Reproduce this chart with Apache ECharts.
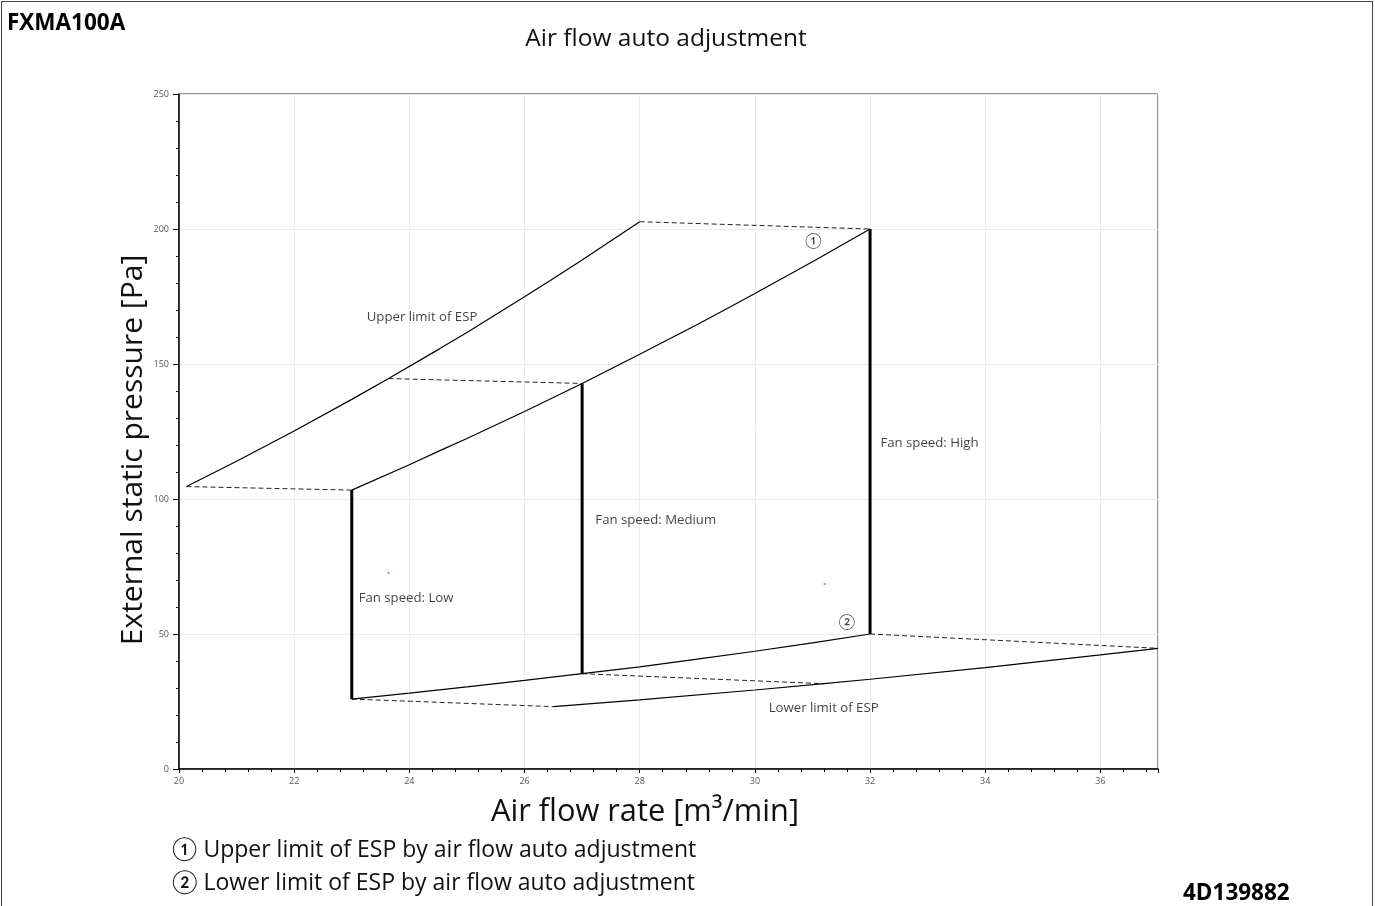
<!DOCTYPE html>
<html><head><meta charset="utf-8">
<script src="https://cdn.jsdelivr.net/npm/echarts@6/dist/echarts.min.js"></script>
<style>
html,body{margin:0;padding:0;background:#fff;}
#frame{position:absolute;left:1px;top:1px;width:1370px;height:910px;border-left:1px solid #444;border-top:1px solid #444;border-right:1px solid #444;}
#c{position:absolute;left:0;top:0;width:1375px;height:906px;}
</style></head><body>
<div id="frame"></div>
<div id="c"></div>
<script>
// ---- data ----
const upperLimitX = [20.13, 21, 22, 23, 23.64, 24.53, 25, 26, 26.44, 27, 28];
const upperLimitY = [104.6, 114.0, 125.2, 136.9, 144.6, 155.7, 161.7, 174.9, 180.8, 188.5, 202.7];
const autoUpperX = [23, 24, 24.53, 25, 26, 27, 28, 29, 29.56, 30, 31, 32];
const autoUpperY = [103.3, 112.7, 117.9, 122.4, 132.4, 142.8, 153.6, 164.6, 171.0, 176.1, 187.9, 200];
const autoLowerX = [23, 24, 25, 26, 27, 28, 29, 30, 31, 32];
const autoLowerY = [25.9, 28.1, 30.4, 32.8, 35.3, 37.8, 40.7, 43.6, 46.7, 50];
const lowerLimitX = [26.5, 28, 30, 31.2, 32, 34, 36, 37];
const lowerLimitY = [23.1, 25.6, 29.25, 31.6, 33.24, 37.56, 42.24, 44.7];
// dashed connectors: [x1, y1, x2, y2]
const dashedLinks = [
  [20.13, 104.6, 23, 103.3],
  [23.64, 144.6, 27, 142.8],
  [28, 202.7, 32, 200],
  [23, 25.9, 26.5, 23.1],
  [27, 35.3, 31.2, 31.6],
  [32, 50, 37, 44.7]
];
// fan speed verticals: [x, yLow, yHigh]
const fanSpeedLines = [
  [23, 25.9, 103.3],
  [27, 35.3, 142.8],
  [32, 50, 200]
];
// annotation texts: [text, x, y, align]
const annotations = [
  ['Upper limit of ESP', 23.26, 167.4, 'left'],
  ['Fan speed: Low', 23.12, 63.3, 'left'],
  ['Fan speed: Medium', 27.23, 92.2, 'left'],
  ['Fan speed: High', 32.18, 120.7, 'left'],
  ['Lower limit of ESP', 30.24, 22.6, 'left'],
  ['\u2460', 31.02, 195.2, 'center'],
  ['\u2461', 31.6, 54.1, 'center']
];
const strayDots = [[23.64, 72.6], [31.21, 68.5]];
const xTicks = {min: 20, max: 37, interval: 2};
const yTicks = {min: 0, max: 250, interval: 50};
const xName = 'Air flow rate [m\u00b3/min]';
const yName = 'External static pressure [Pa]';

const zip = (xs, ys) => xs.map((x, i) => [x, ys[i]]);
const FONT = '"Open Sans", Lato, sans-serif';

const series = [];
const solid = {color: '#000', width: 1.2};
[[upperLimitX, upperLimitY], [autoUpperX, autoUpperY], [autoLowerX, autoLowerY], [lowerLimitX, lowerLimitY]].forEach(([xs, ys]) => {
  series.push({type: 'line', data: zip(xs, ys), showSymbol: false, smooth: false, lineStyle: solid, silent: true, z: 3});
});
dashedLinks.forEach(d => {
  series.push({type: 'line', data: [[d[0], d[1]], [d[2], d[3]]], showSymbol: false,
    lineStyle: {color: '#222', width: 1, type: [5, 3]}, silent: true, z: 2});
});
fanSpeedLines.forEach(f => {
  series.push({type: 'line', data: [[f[0], f[1]], [f[0], f[2]]], showSymbol: false,
    lineStyle: {color: '#000', width: 3}, silent: true, z: 4});
});
annotations.forEach(a => {
  series.push({type: 'scatter', data: [[a[1], a[2]]], symbolSize: 0, silent: true,
    label: {show: true, position: a[3] === 'left' ? 'right' : 'inside', distance: 0, formatter: a[0],
      color: '#111', fontSize: a[3] === 'left' ? 13.2 : 15, fontFamily: FONT}});
});
series.push({type: 'scatter', data: strayDots, symbolSize: 2, itemStyle: {color: '#e03030'}, silent: true});

const chart = echarts.init(document.getElementById('c'), null, {renderer: 'canvas'});
chart.setOption({
  animation: false,
  backgroundColor: 'transparent',
  grid: {left: 179, top: 94, right: 217, bottom: 137, show: true, borderColor: '#222', borderWidth: 1, containLabel: false},
  title: {text: 'Air flow auto adjustment', left: 661, top: 22, textAlign: 'center',
    textStyle: {fontFamily: FONT, fontWeight: 'normal', fontSize: 24.5, color: '#111'}},
  xAxis: {
    type: 'value', min: xTicks.min, max: xTicks.max, interval: xTicks.interval,
    axisLine: {show: true, lineStyle: {color: '#000', width: 1.5}},
    axisTick: {show: true, length: 4, lineStyle: {color: '#000'}},
    minorTick: {show: true, splitNumber: 5, length: 3, lineStyle: {color: '#000'}},
    axisLabel: {fontSize: 9, color: '#555', fontFamily: FONT, margin: 8,
      formatter: v => (v === 37 ? '' : v)},
    splitLine: {show: true, lineStyle: {color: '#ececec', width: 1}}
  },
  yAxis: {
    type: 'value', min: yTicks.min, max: yTicks.max, interval: yTicks.interval,
    axisLine: {show: true, lineStyle: {color: '#000', width: 1.5}},
    axisTick: {show: true, length: 6, lineStyle: {color: '#000'}},
    minorTick: {show: true, splitNumber: 5, length: 3, lineStyle: {color: '#000'}},
    axisLabel: {fontSize: 9, color: '#555', fontFamily: FONT, margin: 10},
    splitLine: {show: true, lineStyle: {color: '#ececec', width: 1}}
  },
  graphic: [
    {type: 'text', x: 645, y: 812, style: {text: xName, fontFamily: FONT, fontSize: 30.8, fill: '#111', textAlign: 'center', textVerticalAlign: 'middle'}},
    {type: 'text', x: 133, y: 450, rotation: Math.PI / 2, style: {text: yName, fontFamily: FONT, fontSize: 30, fill: '#111', textAlign: 'center', textVerticalAlign: 'middle'}},
    {type: 'text', left: 7, top: 12, style: {text: 'FXMA100A', fontFamily: FONT, fontWeight: 'bold', fontSize: 22.5, fill: '#000'}},
    {type: 'text', left: 172, top: 839, style: {text: '\u2460 Upper limit of ESP by air flow auto adjustment', fontFamily: FONT, fontSize: 23, fill: '#111'}},
    {type: 'text', left: 172, top: 872, style: {text: '\u2461 Lower limit of ESP by air flow auto adjustment', fontFamily: FONT, fontSize: 23, fill: '#111'}},
    {type: 'text', left: 1183, top: 882, style: {text: '4D139882', fontFamily: FONT, fontWeight: 'bold', fontSize: 22.5, fill: '#000'}}
  ],
  series: series
});
</script>
</body></html>
